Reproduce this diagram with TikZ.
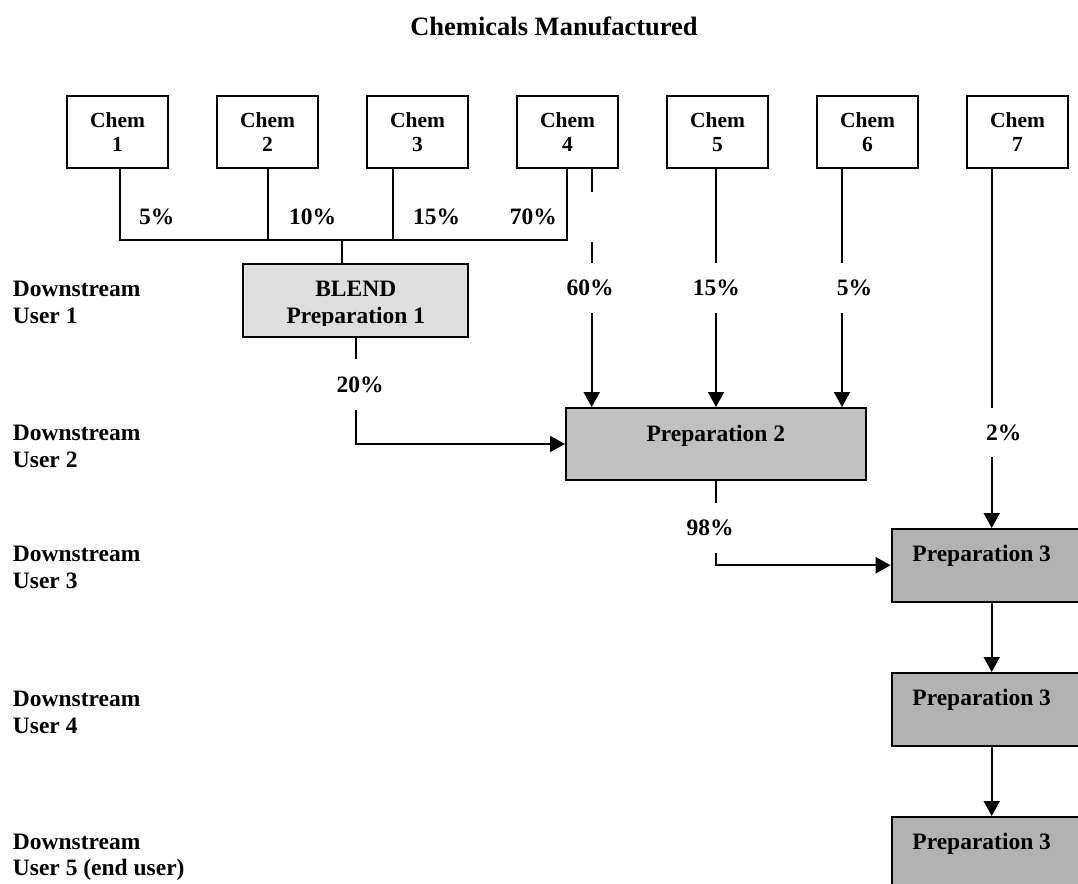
\documentclass[tikz,border=0pt]{standalone}
\usepackage{fontspec}
\setmainfont{Liberation Serif}
\usetikzlibrary{arrows.meta}
\definecolor{blendgray}{RGB}{222,222,222}
\definecolor{ptwogray}{RGB}{192,192,192}
\definecolor{pthreegray}{RGB}{178,178,178}
\begin{document}
\begin{tikzpicture}[x=1pt,y=-1pt,
  chembox/.style={draw, line width=2pt, fill=white, minimum width=101pt, minimum height=72pt, inner sep=0pt, align=center, font=\fontsize{21.5}{24}\selectfont\bfseries},
  prepbox/.style={draw, line width=2pt, inner sep=0pt},
  lbl/.style={font=\fontsize{23.5}{26}\selectfont\bfseries, inner sep=0pt},
  pct/.style={lbl, anchor=base},
  gappct/.style={lbl, fill=white, inner xsep=3pt, minimum height=#1},
  conn/.style={line width=2pt},
  arr/.style={conn, -{Triangle[length=15pt,width=16pt]}}
]
\useasboundingbox (0,0) rectangle (1078,883);

% title
\node[lbl, anchor=base, font=\fontsize{26.5}{30}\selectfont\bfseries] (title) at (554,35.5) {Chemicals Manufactured};

% chemical boxes
\node[chembox] (c1) at (117.5,132) {Chem\\1};
\node[chembox] (c2) at (267.5,132) {Chem\\2};
\node[chembox] (c3) at (417.5,132) {Chem\\3};
\node[chembox] (c4) at (567.5,132) {Chem\\4};
\node[chembox] (c5) at (717.5,132) {Chem\\5};
\node[chembox] (c6) at (867.5,132) {Chem\\6};
\node[chembox] (c7) at (1017.5,132) {Chem\\7};

% preparation boxes
\node[prepbox, fill=blendgray, minimum width=225pt, minimum height=73pt] (blend) at (355.8,300.6) {};
\node[prepbox, fill=ptwogray, minimum width=300pt, minimum height=72pt] (p2) at (716,444) {};
\node[prepbox, fill=pthreegray, minimum width=200pt, minimum height=72.5pt, anchor=north west] (p3a) at (890.7,528) {};
\node[prepbox, fill=pthreegray, minimum width=200pt, minimum height=72.5pt, anchor=north west] (p3b) at (890.7,672) {};
\node[prepbox, fill=pthreegray, minimum width=200pt, minimum height=72.5pt, anchor=north west] (p3c) at (890.7,816) {};

% box texts
\node[pct] (blendA) at (355.8,296.7) {BLEND};
\begin{scope}
  \clip (244,264) rectangle (467,325.5);
  \node[pct] (blendB) at (355.8,323.3) {Preparation 1};
\end{scope}
\node[pct] (p2t) at (715.8,441.7) {Preparation 2};
\node[pct] (p3at) at (981.7,561.5) {Preparation 3};
\node[pct] (p3bt) at (981.7,705.3) {Preparation 3};
\node[pct] (p3ct) at (981.7,849.3) {Preparation 3};

% blend bus
\coordinate (busL) at (119.5,240);
\coordinate (busR) at (567,240);
\coordinate (stub) at (341.7,240);
\draw[conn] (c1.south -| busL) -- (busL) -- (busR) -- (c4.south -| busR);
\draw[conn] (c2.south) -- (c2.south |- busL);
\draw[conn] ([xshift=-24.5pt]c3.south) -- ([xshift=-24.5pt]c3.south |- busL);
\draw[conn] (stub) -- (stub |- blend.north);

% chemicals to preparation 2
\draw[arr] ([xshift=24.2pt]c4.south) -- ([xshift=24.2pt]c4.south |- p2.north);
\fill[white] (587,192) rectangle (597,242);
\draw[arr] (c5.south -| p2.north) -- (p2.north);
\draw[arr] ([xshift=-25.5pt]c6.south) -- ([xshift=-25.5pt]c6.south |- p2.north);

% blend to preparation 2
\draw[arr] (blend.south) |- (p2.west);
% preparation 2 to preparation 3
\draw[arr] (p2.south) |- (p3a.west);
% chem 7 to preparation 3
\draw[arr] (c7.south -| p3a.north) -- (p3a.north);
\draw[arr] (p3a.south) -- (p3b.north);
\draw[arr] (p3b.south) -- (p3c.north);

% percentages on the bus
\node[pct] (q1) at (156.7,224) {5\%};
\node[pct] (q2) at (312.5,224) {10\%};
\node[pct] (q3) at (436.7,224) {15\%};
\node[pct] (q4) at (533.3,224) {70\%};

% percentages with gaps
\node[gappct=50pt] (q5) at (590,288) {60\%};
\node[gappct=50pt] (q6) at (716.4,288) {15\%};
\node[gappct=50pt] (q7) at (854.6,288) {5\%};
\node[gappct=51pt] (q8) at (360,384.5) {20\%};
\node[gappct=50pt] (q9) at (710,528) {98\%};
\node[gappct=49pt] (q10) at (1003.7,432.5) {2\%};

% downstream user labels
\node[lbl, anchor=base west] (d1a) at (12.7,296.7) {Downstream};
\node[lbl, anchor=base west] (d1b) at (12.7,323.2) {User 1};
\node[lbl, anchor=base west] (d2a) at (12.7,440.7) {Downstream};
\node[lbl, anchor=base west] (d2b) at (12.7,467.2) {User 2};
\node[lbl, anchor=base west] (d3a) at (12.7,561.5) {Downstream};
\node[lbl, anchor=base west] (d3b) at (12.7,588) {User 3};
\node[lbl, anchor=base west] (d4a) at (12.7,706.5) {Downstream};
\node[lbl, anchor=base west] (d4b) at (12.7,733) {User 4};
\node[lbl, anchor=base west] (d5a) at (12.7,849) {Downstream};
\node[lbl, anchor=base west] (d5b) at (12.7,875.5) {User 5 (end user)};
\end{tikzpicture}
\end{document}
